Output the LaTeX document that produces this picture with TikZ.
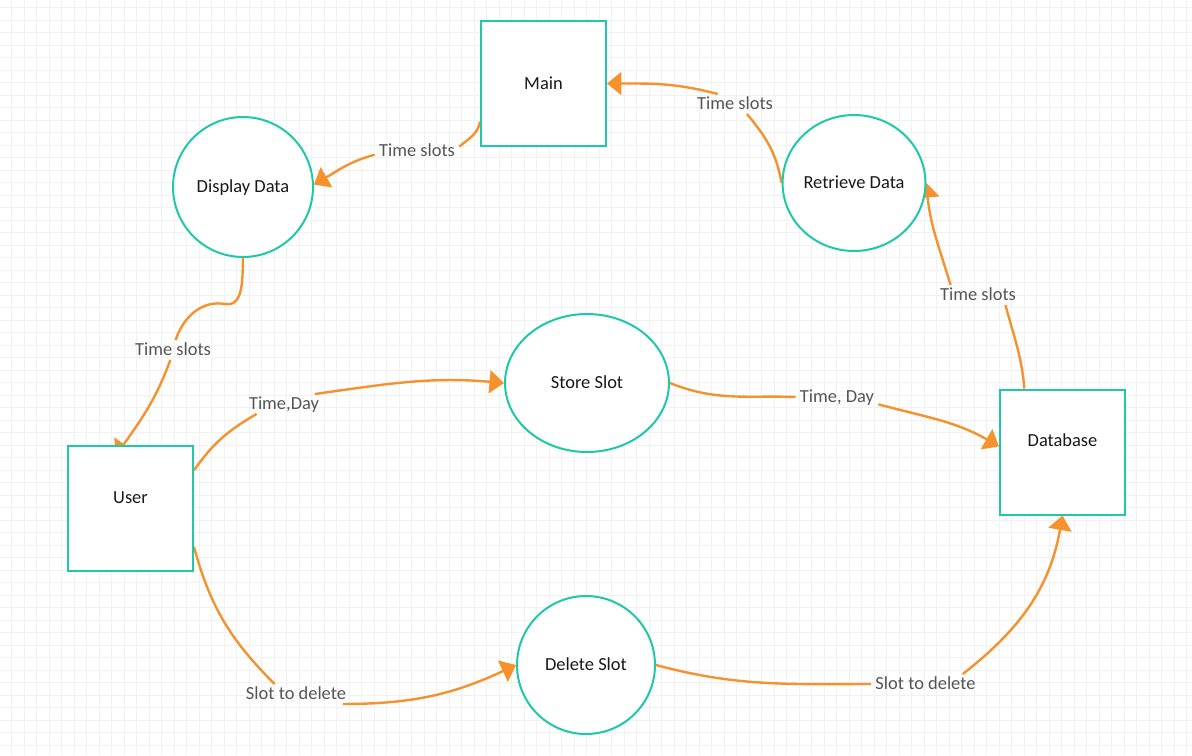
\documentclass[tikz,border=0pt]{standalone}
\usepackage{fontspec}
\setmainfont{Carlito}
\usetikzlibrary{arrows.meta, shapes.geometric}
\definecolor{tosca}{RGB}{30,200,168}
\definecolor{jingga}{RGB}{245,146,45}
\definecolor{abu}{RGB}{85,85,85}
\definecolor{garis}{RGB}{241,241,241}
\pgfdeclarelayer{grid}
\pgfdeclarelayer{edges}
\pgfsetlayers{grid,edges,main}

\begin{document}
\begin{tikzpicture}[
    x=0.02cm, y=0.02cm,
    font=\fontsize{10.5}{12}\selectfont,
    entity/.style={draw=tosca, fill=white, line width=0.04cm, minimum size=2.5cm,
                   inner sep=0pt, text=black!90, text height=0.64em, text depth=0pt},
    process/.style={entity, ellipse, minimum width=2.76cm, minimum height=2.76cm},
    flowlabel/.style={text=abu, inner sep=0.08cm, text height=0.64em, text depth=0pt},
    seg/.style={draw=jingga, line width=0.048cm},
    flow/.style={seg, -{Triangle[length=0.29cm, width=0.46cm]}}
  ]
    \useasboundingbox (0,0) rectangle (1192,-755);
    % background grid
    \begin{pgfonlayer}{grid}
      \fill[white] (0,0) rectangle (1192,-755);
      \foreach \gx in {0,...,94}
        \draw[garis, line width=0.5pt] (11.8+12.5*\gx,0) -- ++(0,-755);
      \foreach \gy in {0,...,59}
        \draw[garis, line width=0.5pt] (0,-7.5-12.5*\gy) -- ++(1192,0);
    \end{pgfonlayer}

    % stores and processes
    \node[entity] (main) at (543.5,-83.5) {Main};
    \node[entity, text depth=0.44cm] (user) at (130.5,-508.5) {User};
    \node[entity, text depth=0.44cm] (database) at (1062.5,-452) {Database};
    \node[process, minimum size=2.8cm] (display) at (243,-187) {Display Data};
    \node[process, minimum size=2.72cm] (retrieve) at (854,-183) {Retrieve Data};
    \node[process, minimum width=3.28cm, minimum height=2.76cm] (store) at (587,-383) {Store Slot};
    \node[process] (delete) at (586,-665) {Delete Slot};

    % flow labels
    \node[flowlabel] (lmaindisp) at (417,-151) {Time slots};
    \node[flowlabel] (lretrmain) at (735,-104) {Time slots};
    \node[flowlabel] (ldispuser) at (173,-350) {Time slots};
    \node[flowlabel] (ldbretr) at (978,-295) {Time slots};
    \node[flowlabel] (luserstore) at (284,-404) {Time,Day};
    \node[flowlabel] (lstoredb) at (837,-397) {Time, Day};
    \node[flowlabel] (luserdel) at (296,-694) {Slot to delete};
    \node[flowlabel] (ldeldb) at (925.5,-684) {Slot to delete};

    \begin{pgfonlayer}{edges}
      \draw[seg] (main.211) to[out=-100, in=40] (lmaindisp.6);
      \draw[flow] (lmaindisp.185) to[out=195, in=30] (display.2);
      \draw[seg] (retrieve.180) to[out=100, in=-50] (lretrmain.-40);
      \draw[flow] (lretrmain.150) to[out=165, in=0] (main.east);
      \draw[seg] (display.south) to[out=-92, in=-10] (225,-304) to[out=170, in=72] (ldispuser.75);
      \draw[flow] (ldispuser.-105) to[out=-110, in=55] ([xshift=-0.12cm, yshift=-0.22cm]user.98);
      \draw[seg] (database.121) to[out=95, in=-75] (ldbretr.-20);
      \draw[flow] (ldbretr.160) to[out=107, in=-85] (retrieve.0);
      \draw[seg] (user.31) to[out=55, in=-150] (luserstore.200);
      \draw[flow] (luserstore.18) to[out=8, in=175] (store.west);
      \draw[seg] (store.east) to[out=-22, in=178] (lstoredb.west);
      \draw[flow] (lstoredb.-10) to[out=-15, in=150] (database.175);
      \draw[seg] (user.-31) to[out=-75, in=135] (luserdel.155);
      \draw[flow] (luserdel.-12) to[out=0, in=-155] (delete.west);
      \draw[seg] (delete.east) to[out=-15, in=180] (ldeldb.west);
      \draw[flow] (ldeldb.15) to[out=38, in=-100] (database.south);
    \end{pgfonlayer}
  \end{tikzpicture}
\end{document}
